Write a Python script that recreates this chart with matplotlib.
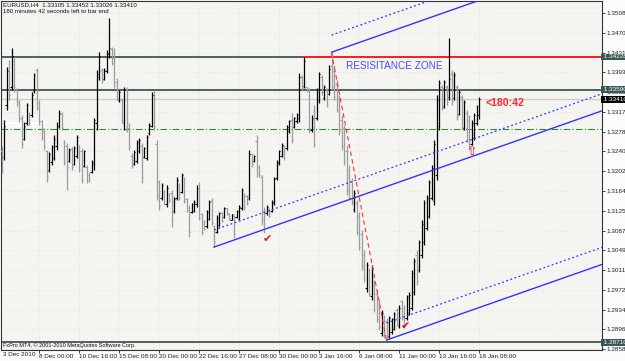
import matplotlib
matplotlib.use('Agg')
import matplotlib.pyplot as plt

# EURUSD H4 bars (3 Dec 2010 08:00 .. 18 Jan 2011 08:00)
highs = [
    1.3251, 1.3301, 1.3403, 1.3417, 1.3440, 1.3421, 1.3363, 1.3340, 1.3310, 1.3297,
    1.3334, 1.3316, 1.3355, 1.3392, 1.3401, 1.3340, 1.3301, 1.3285, 1.3243, 1.3239,
    1.3252, 1.3272, 1.3297, 1.3320, 1.3316, 1.3262, 1.3256, 1.3247, 1.3249, 1.3251,
    1.3272, 1.3252, 1.3247, 1.3243, 1.3214, 1.3200, 1.3223, 1.3305, 1.3398, 1.3432,
    1.3401, 1.3401, 1.3436, 1.3498, 1.3442, 1.3440, 1.3382, 1.3359, 1.3343, 1.3365,
    1.3365, 1.3295, 1.3237, 1.3243, 1.3262, 1.3266, 1.3256, 1.3249, 1.3272, 1.3295,
    1.3355, 1.3359, 1.3262, 1.3185, 1.3179, 1.3165, 1.3175, 1.3160, 1.3165, 1.3152,
    1.3191, 1.3179, 1.3198, 1.3191, 1.3150, 1.3136, 1.3140, 1.3146, 1.3175, 1.3181,
    1.3121, 1.3107, 1.3127, 1.3146, 1.3150, 1.3098, 1.3117, 1.3123, 1.3123, 1.3132,
    1.3131, 1.3121, 1.3119, 1.3117, 1.3127, 1.3136, 1.3169, 1.3160, 1.3156, 1.3243,
    1.3237, 1.3233, 1.3272, 1.3214, 1.3194, 1.3132, 1.3136, 1.3131, 1.3146, 1.3191,
    1.3223, 1.3243, 1.3256, 1.3252, 1.3291, 1.3301, 1.3314, 1.3307, 1.3314, 1.3392,
    1.3388, 1.3423, 1.3365, 1.3363, 1.3310, 1.3330, 1.3363, 1.3394, 1.3388, 1.3369,
    1.3363, 1.3407, 1.3432, 1.3407, 1.3378, 1.3349, 1.3310, 1.3291, 1.3252, 1.3214,
    1.3189, 1.3165, 1.3146, 1.3123, 1.3088, 1.3049, 1.3026, 1.3014, 1.3020, 1.2991,
    1.2972, 1.2953, 1.2933, 1.2923, 1.2918, 1.2922, 1.2918, 1.2929, 1.2937, 1.2943,
    1.2953, 1.2943, 1.2962, 1.2968, 1.3011, 1.3034, 1.3049, 1.3069, 1.3107, 1.3146,
    1.3156, 1.3185, 1.3214, 1.3262, 1.3349, 1.3378, 1.3369, 1.3378, 1.3369, 1.3459,
    1.3398, 1.3394, 1.3369, 1.3359, 1.3349, 1.3340, 1.3320, 1.3310, 1.3301, 1.3314,
    1.3330, 1.33452]
lows = [
    1.3198, 1.3223, 1.3320, 1.3340, 1.3359, 1.3355, 1.3328, 1.3297, 1.3247, 1.3262,
    1.3291, 1.3291, 1.3307, 1.3353, 1.3320, 1.3291, 1.3262, 1.3243, 1.3181, 1.3200,
    1.3214, 1.3223, 1.3243, 1.3285, 1.3281, 1.3214, 1.3165, 1.3220, 1.3204, 1.3214,
    1.3227, 1.3200, 1.3179, 1.3210, 1.3179, 1.3181, 1.3198, 1.3204, 1.3281, 1.3378,
    1.3372, 1.3378, 1.3392, 1.3421, 1.3407, 1.3363, 1.3340, 1.3336, 1.3295, 1.3281,
    1.3278, 1.3243, 1.3208, 1.3214, 1.3218, 1.3237, 1.3179, 1.3227, 1.3223, 1.3272,
    1.3287, 1.3281, 1.3146, 1.3127, 1.3146, 1.3136, 1.3132, 1.3142, 1.3094, 1.3121,
    1.3146, 1.3146, 1.3160, 1.3140, 1.3123, 1.3074, 1.3121, 1.3123, 1.3132, 1.3107,
    1.3078, 1.3088, 1.3092, 1.3107, 1.3098, 1.3055, 1.3082, 1.3094, 1.3103, 1.3111,
    1.3117, 1.3107, 1.3107, 1.3072, 1.3111, 1.3107, 1.3127, 1.3127, 1.3136, 1.3146,
    1.3210, 1.3220, 1.3191, 1.3191, 1.3098, 1.3082, 1.3117, 1.3113, 1.3123, 1.3136,
    1.3185, 1.3214, 1.3229, 1.3223, 1.3243, 1.3276, 1.3256, 1.3285, 1.3295, 1.3297,
    1.3359, 1.3363, 1.3355, 1.3276, 1.3278, 1.3249, 1.3301, 1.3334, 1.3349, 1.3340,
    1.3326, 1.3349, 1.3359, 1.3340, 1.3316, 1.3272, 1.3243, 1.3214, 1.3156, 1.3146,
    1.3136, 1.3123, 1.3078, 1.3049, 1.3011, 1.2987, 1.2968, 1.2960, 1.2953, 1.2929,
    1.2910, 1.2894, 1.2883, 1.2879, 1.2875, 1.2879, 1.2887, 1.2894, 1.2902, 1.2898,
    1.2914, 1.2898, 1.2914, 1.2923, 1.2933, 1.2962, 1.2982, 1.3007, 1.3034, 1.3059,
    1.3088, 1.3111, 1.3146, 1.3136, 1.3185, 1.3281, 1.3320, 1.3324, 1.3330, 1.3340,
    1.3330, 1.3340, 1.3301, 1.3310, 1.3281, 1.3281, 1.3258, 1.3243, 1.3252, 1.3262,
    1.3291, 1.33026]
opens = [
    1.3240, 1.3230, 1.3330, 1.3400, 1.3365, 1.3415, 1.3360, 1.3335, 1.3305, 1.3265,
    1.3295, 1.3312, 1.3310, 1.3356, 1.3398, 1.3335, 1.3298, 1.3280, 1.3240, 1.3205,
    1.3220, 1.3228, 1.3250, 1.3290, 1.3312, 1.3258, 1.3250, 1.3222, 1.3245, 1.3216,
    1.3232, 1.3250, 1.3240, 1.3212, 1.3210, 1.3195, 1.3200, 1.3215, 1.3295, 1.3385,
    1.3398, 1.3380, 1.3395, 1.3428, 1.3438, 1.3420, 1.3375, 1.3340, 1.3340, 1.3295,
    1.3360, 1.3285, 1.3232, 1.3215, 1.3222, 1.3240, 1.3250, 1.3230, 1.3228, 1.3275,
    1.3290, 1.3350, 1.3255, 1.3180, 1.3150, 1.3162, 1.3138, 1.3158, 1.3160, 1.3125,
    1.3150, 1.3176, 1.3162, 1.3188, 1.3148, 1.3130, 1.3123, 1.3125, 1.3138, 1.3175,
    1.3118, 1.3105, 1.3095, 1.3110, 1.3145, 1.3095, 1.3085, 1.3098, 1.3120, 1.3113,
    1.3130, 1.3120, 1.3108, 1.3115, 1.3113, 1.3110, 1.3130, 1.3158, 1.3154, 1.3150,
    1.3235, 1.3222, 1.3260, 1.3210, 1.3190, 1.3125, 1.3120, 1.3129, 1.3125, 1.3140,
    1.3188, 1.3217, 1.3232, 1.3250, 1.3246, 1.3280, 1.3300, 1.3288, 1.3298, 1.3305,
    1.3385, 1.3366, 1.3364, 1.3358, 1.3282, 1.3320, 1.3305, 1.3340, 1.3385, 1.3343,
    1.3360, 1.3352, 1.3405, 1.3395, 1.3370, 1.3340, 1.3300, 1.3285, 1.3240, 1.3205,
    1.3180, 1.3128, 1.3140, 1.3115, 1.3080, 1.3040, 1.2975, 1.3010, 1.2960, 1.2985,
    1.2965, 1.2948, 1.2888, 1.2920, 1.2912, 1.2882, 1.2890, 1.2897, 1.2933, 1.2902,
    1.2950, 1.2938, 1.2918, 1.2928, 1.2938, 1.2968, 1.3040, 1.3010, 1.3040, 1.3065,
    1.3092, 1.3115, 1.3150, 1.3145, 1.3195, 1.3290, 1.3365, 1.3328, 1.3365, 1.3345,
    1.3390, 1.3343, 1.3365, 1.3313, 1.3345, 1.3285, 1.3315, 1.3300, 1.3255, 1.3266,
    1.3296, 1.33105]
closes = [
    1.3205, 1.3290, 1.3395, 1.3350, 1.3425, 1.3365, 1.3335, 1.3302, 1.3255, 1.3290,
    1.3330, 1.3295, 1.3350, 1.3388, 1.3325, 1.3295, 1.3268, 1.3250, 1.3190, 1.3235,
    1.3248, 1.3265, 1.3290, 1.3315, 1.3285, 1.3220, 1.3210, 1.3243, 1.3210, 1.3246,
    1.3268, 1.3205, 1.3185, 1.3240, 1.3182, 1.3185, 1.3220, 1.3300, 1.3390, 1.3425,
    1.3378, 1.3398, 1.3430, 1.3440, 1.3412, 1.3368, 1.3345, 1.3355, 1.3300, 1.3360,
    1.3285, 1.3250, 1.3212, 1.3238, 1.3258, 1.3262, 1.3190, 1.3246, 1.3268, 1.3292,
    1.3350, 1.3290, 1.3155, 1.3135, 1.3175, 1.3140, 1.3170, 1.3145, 1.3110, 1.3148,
    1.3185, 1.3150, 1.3195, 1.3145, 1.3127, 1.3085, 1.3138, 1.3143, 1.3170, 1.3112,
    1.3085, 1.3090, 1.3122, 1.3142, 1.3102, 1.3065, 1.3112, 1.3120, 1.3106, 1.3130,
    1.3119, 1.3109, 1.3118, 1.3080, 1.3125, 1.3133, 1.3165, 1.3132, 1.3140, 1.3235,
    1.3215, 1.3231, 1.3198, 1.3195, 1.3110, 1.3090, 1.3133, 1.3116, 1.3143, 1.3187,
    1.3220, 1.3240, 1.3253, 1.3228, 1.3288, 1.3298, 1.3262, 1.3304, 1.3311, 1.3385,
    1.3362, 1.3415, 1.3357, 1.3285, 1.3305, 1.3255, 1.3358, 1.3390, 1.3355, 1.3365,
    1.3330, 1.3400, 1.3365, 1.3345, 1.3320, 1.3280, 1.3250, 1.3220, 1.3165, 1.3150,
    1.3142, 1.3160, 1.3085, 1.3055, 1.3018, 1.2995, 1.3020, 1.2965, 1.3015, 1.2935,
    1.2915, 1.2900, 1.2928, 1.2883, 1.2880, 1.2918, 1.2915, 1.2925, 1.2906, 1.2938,
    1.2918, 1.2903, 1.2958, 1.2963, 1.3005, 1.3028, 1.2990, 1.3065, 1.3100, 1.3140,
    1.3150, 1.3180, 1.3208, 1.3255, 1.3340, 1.3372, 1.3325, 1.3374, 1.3335, 1.3380,
    1.3338, 1.3388, 1.3308, 1.3355, 1.3288, 1.3335, 1.3265, 1.3250, 1.3295, 1.3310,
    1.3310, 1.33410]

time_labels = ['8 Dec 00:00', '10 Dec 16:00', '15 Dec 08:00', '20 Dec 00:00', '22 Dec 16:00',
               '27 Dec 08:00', '30 Dec 00:00', '3 Jan 16:00', '6 Jan 08:00', '11 Jan 00:00',
               '13 Jan 16:00', '18 Jan 08:00']
time_label_bars = [15, 31, 47, 63, 79, 95, 111, 127, 143, 159, 175, 191]
price_ticks = [1.35080, 1.34700, 1.34310, 1.33930, 1.33550, 1.33170, 1.32780, 1.32400, 1.32020,
               1.31640, 1.31250, 1.30870, 1.30490, 1.30110, 1.29720, 1.29340, 1.28960, 1.28580]

# objects drawn on the chart
slate_levels = [1.34228, 1.33590, 1.28710]
resistance = 1.34228
resistance_from = 121
green_level = 1.3283
pitchfork_bars = [85, 132, 154]   # A (low), B (high), C (low)
dotted_offset = 0.0033

n = len(highs)
xs = list(range(n))

fig = plt.figure(figsize=(6.25, 3.61), dpi=100, facecolor='#fbfbfb')
ax = fig.add_axes([1 / 625, 11 / 361, 601 / 625, 349 / 361])
ax.set_facecolor('#f4f4f1')
x_lo, x_hi = -0.2, 240.2
ax.set_xlim(x_lo, x_hi)
ax.set_ylim(1.28558, 1.35311)

# dotted grid
for p in price_ticks:
    ax.axhline(p, color='#e8cfcf', lw=0.5, ls=(0, (1, 3)), zorder=0)
for b in time_label_bars:
    ax.axvline(b, color='#e8cfcf', lw=0.5, ls=(0, (1, 3)), zorder=0)

# horizontal lines
for p in slate_levels:
    ax.axhline(p, color='#3b5656', lw=1.3, zorder=2)
ax.plot([resistance_from, x_hi], [resistance, resistance], color='#ff2020', lw=1.4, zorder=3)
ax.axhline(green_level, color='#2e8b2e', lw=0.8, ls=(0, (6, 2, 1, 2)), zorder=2)
ax.axhline(closes[-1], color='#d9c6c6', lw=0.9, zorder=1)
# object label box on the left of the green level
ax.text(0.005, green_level + 0.0009, '. .........  .. ..... .......', transform=ax.get_yaxis_transform(),
        fontsize=3.2, color='#888888', va='center', ha='left', zorder=3,
        bbox=dict(boxstyle='square,pad=0.2', fc='white', ec='none'))

# bars
cols = ['#000000' if c >= o else '#9c9c9c' for o, c in zip(opens, closes)]
ax.vlines(xs, lows, highs, colors=cols, lw=0.9, zorder=4)
ax.hlines(opens, [x - 0.5 for x in xs], xs, colors=cols, lw=0.8, zorder=4)
ax.hlines(closes, xs, [x + 0.5 for x in xs], colors=cols, lw=0.8, zorder=4)

# Andrews pitchfork
a, b, c = pitchfork_bars
pa, pb, pc = lows[a], highs[b], lows[c]
mx, my = (b + c) / 2, (pb + pc) / 2
slope = (my - pa) / (mx - a)
blue = '#3333ff'
for x0, y0 in [(a, pa), (b, pb), (c, pc)]:
    ax.plot([x0, x_hi], [y0, y0 + slope * (x_hi - x0)], color=blue, lw=1.0, zorder=5)
    ax.plot([x0, x_hi], [y0 + dotted_offset, y0 + dotted_offset + slope * (x_hi - x0)],
            color=blue, lw=0.9, ls=(0, (1.5, 2)), zorder=5)
ax.plot([b, c], [pb, pc], color='#ff3030', lw=0.8, ls=(0, (4, 3)), zorder=5)

# annotations
ax.text(137.9, 1.3405, 'RESISITANCE ZONE', color='#4b4bff', fontsize=7.2,
        family='Liberation Sans', ha='left', va='center', zorder=6)
ax.text(193.6, 1.3333, '<180:42', color='#ff2a2a', fontsize=7.6, fontweight='bold',
        family='Liberation Sans', ha='left', va='center', zorder=6)
ax.text(106.4, 1.30705, '\u2714', color='#ee1111', fontsize=8, ha='center', va='center', zorder=6)
ax.text(161.6, 1.2902, '\u2714', color='#ee1111', fontsize=8, ha='center', va='center', zorder=6)
ax.text(188.2, 1.3240, '\u21e7', color='#ee1111', fontsize=9, ha='center', va='center', zorder=6)

# axes / ticks, MT4 style
for s in ax.spines.values():
    s.set_color('#333333')
    s.set_linewidth(0.8)
ax.yaxis.tick_right()
ax.set_yticks(price_ticks)
ax.set_yticklabels(['%.5f' % p for p in price_ticks], family='Liberation Sans', fontsize=4.6)
ax.tick_params(axis='y', length=2.5, width=0.6, pad=1, colors='#222222')
ax.set_xticks(time_label_bars)
ax.set_xticklabels(time_labels, family='Liberation Sans', fontsize=4.6, ha='left')
ax.tick_params(axis='x', length=2, width=0.6, pad=1, colors='#222222')
fig.text(3 / 625, 1 - 354 / 361, '3 Dec 2010', family='Liberation Sans', fontsize=4.6,
         color='#222222', va='center')

# price boxes on the scale
box_tr = ax.get_yaxis_transform()
for p in slate_levels:
    ax.text(1.0, p, ' %.5f' % p, transform=box_tr, fontsize=4.6, family='Liberation Sans',
            color='white', va='center', ha='left', clip_on=False, zorder=7,
            bbox=dict(boxstyle='square,pad=0.15', fc='#3b5656', ec='none'))
ax.text(1.0, closes[-1], ' %.5f' % closes[-1], transform=box_tr, fontsize=4.6,
        family='Liberation Sans', color='white', va='center', ha='left', clip_on=False,
        zorder=7, bbox=dict(boxstyle='square,pad=0.15', fc='#000000', ec='none'))

# header and footer
fig.text(3 / 625, 1 - 2 / 361, 'EURUSD,H4  %.5f %.5f %.5f %.5f' % (opens[-1], highs[-1], lows[-1], closes[-1]),
         family='Liberation Sans', fontsize=4.4, va='top', color='#111111')
fig.text(3 / 625, 1 - 9 / 361, '180 minutes 42 seconds left to bar end',
         family='Liberation Sans', fontsize=4.4, va='top', color='#111111')
fig.text(3 / 625, 1 - 345 / 361, 'FxPro MT4, \u00a9 2001-2010 MetaQuotes Software Corp.',
         family='Liberation Sans', fontsize=4.0, va='center', color='#111111')

fig.savefig('out.png', dpi=100, facecolor=fig.get_facecolor())
